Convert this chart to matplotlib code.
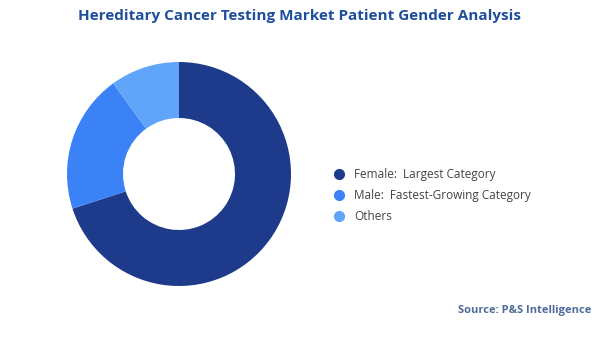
import matplotlib
matplotlib.use('Agg')
import matplotlib.pyplot as plt
from matplotlib.lines import Line2D

labels = ['Female:  Largest Category', 'Male:  Fastest-Growing Category', 'Others']
shares = [70, 20, 10]
colors = ['#1e3a8a', '#3b82f6', '#60a5fa']

plt.rcParams['font.family'] = ['Open Sans', 'DejaVu Sans']

fig = plt.figure(figsize=(6, 3.37), dpi=100)

# donut
ax = fig.add_axes([67/600, (337-286)/337, 224/600, 224/337])
ax.pie(shares, colors=colors, startangle=90, counterclock=False,
       wedgeprops=dict(width=0.5, edgecolor='none'))
ax.set_xlim(-1, 1)
ax.set_ylim(-1, 1)
ax.set_aspect('equal')

fig.text(0.5, 1-16/337, 'Hereditary Cancer Testing Market Patient Gender Analysis',
         ha='center', va='center', fontsize=11, fontweight='bold', color='#1f4e9c')

handles = [Line2D([], [], marker='o', linestyle='none', markersize=7,
                  markerfacecolor=c, markeredgecolor=c) for c in colors]
fig.legend(handles, labels, loc='center left', bbox_to_anchor=(322/600, 1-195.7/337),
           frameon=False, fontsize=8.5, labelcolor='#444444', handletextpad=0.3,
           labelspacing=0.68, borderaxespad=0)

fig.text(591/600, 1-311/337, 'Source: P&S Intelligence', ha='right', va='center',
         fontsize=8, fontweight='bold', color='#4f6a9a')

fig.savefig('out.png', dpi=100)
